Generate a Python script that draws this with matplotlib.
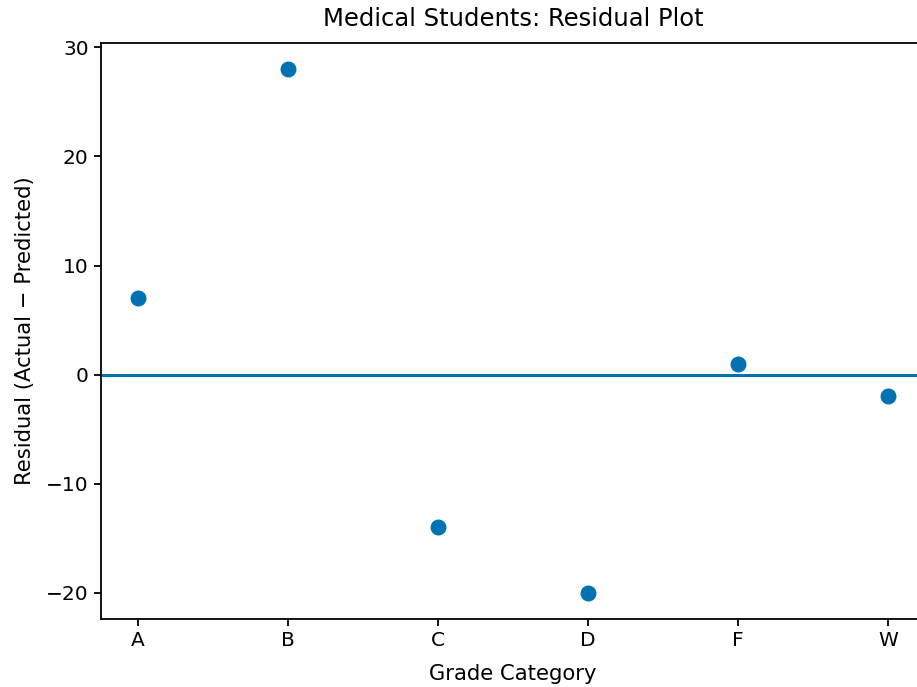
import matplotlib
matplotlib.use("Agg")
from matplotlib import pyplot as plt

categories = ["A", "B", "C", "D", "F", "W"]
residuals = [7, 28, -14, -20, 1, -2]

blue = "#0072B2"

fig = plt.figure(figsize=(9.17, 6.87), dpi=100)
# the reference is cut off on the right, so the axes run past the figure edge
ax = fig.add_axes([0.1096, 0.099, 0.8997, 0.8384])
ax.spines["right"].set_visible(False)

x = list(range(len(categories)))
ax.scatter(x, residuals, s=110, color=blue, zorder=3)
ax.axhline(0, color=blue, linewidth=2.2)

ax.set_xticks(x)
ax.set_xticklabels(categories)
ax.set_yticks([-20, -10, 0, 10, 20, 30])
ax.tick_params(labelsize=14.5, width=1.3, length=5)
for s in ax.spines.values():
    s.set_linewidth(1.3)

ax.set_title("Medical Students: Residual Plot", fontsize=17.5, pad=12)
ax.set_xlabel("Grade Category", fontsize=15.2, labelpad=10)
ax.set_ylabel("Residual (Actual \u2212 Predicted)", fontsize=15.2, labelpad=8)

fig.savefig("out.png", dpi=100)
